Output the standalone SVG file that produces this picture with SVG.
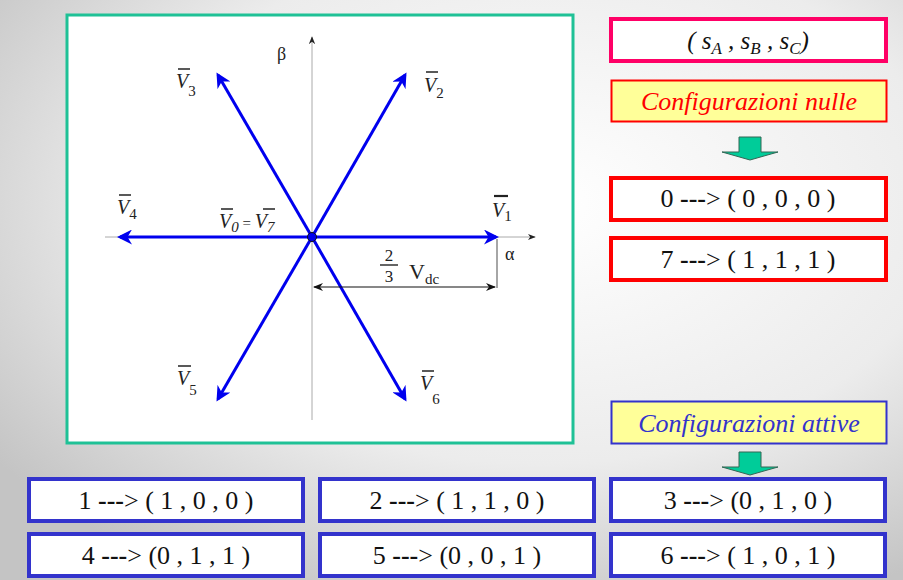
<svg xmlns="http://www.w3.org/2000/svg" width="903" height="580" viewBox="0 0 903 580">
<defs>
<radialGradient id="bg" cx="0.6" cy="0.35" r="0.75">
<stop offset="0" stop-color="#ffffff"/>
<stop offset="0.6" stop-color="#ececec"/>
<stop offset="1" stop-color="#c4c4c4"/>
</radialGradient>
<marker id="ah" viewBox="0 0 10 10" refX="8" refY="5" markerWidth="5" markerHeight="5" markerUnits="strokeWidth" orient="auto">
<path d="M0,0 L10,5 L0,10 L3,5 Z" fill="#0000ee"/>
</marker>
<marker id="ax" viewBox="0 0 10 10" refX="9" refY="5" markerWidth="8" markerHeight="8" markerUnits="userSpaceOnUse" orient="auto">
<path d="M0,1 L10,5 L0,9 L3,5 Z" fill="#222"/>
</marker>
<marker id="dm" viewBox="0 0 10 10" refX="9" refY="5" markerWidth="10" markerHeight="10" markerUnits="userSpaceOnUse" orient="auto-start-reverse">
<path d="M0,1 L10,5 L0,9 L3,5 Z" fill="#111"/>
</marker>
<path id="garrow" d="M-11,0 L11,0 L11,15 L28,15 L0,23 L-28,15 L-11,15 Z" fill="#00cc99" stroke="#336655" stroke-width="1"/>
<rect id="boxR" width="275" height="42" fill="#fff" stroke="#ff0000" stroke-width="4"/>
<rect id="boxB" width="274" height="42" fill="#fff" stroke="#3333cc" stroke-width="4"/>
</defs>
<rect width="903" height="580" fill="url(#bg)"/>

<g id="diagram">
<rect x="67" y="15" width="506" height="428" fill="#fff" stroke="#1fc196" stroke-width="3"/>
<line x1="312" y1="420" x2="312" y2="37" stroke="#aaa" stroke-width="1" marker-end="url(#ax)"/>
<line x1="105" y1="237" x2="535" y2="237" stroke="#aaa" stroke-width="1" marker-end="url(#ax)"/>
<text x="277" y="60" font-family="'Liberation Serif', 'Times New Roman', Tinos, 'DejaVu Serif', 'Noto Serif', serif" font-size="18" fill="#222">β</text>
<text x="505" y="260" font-family="'Liberation Serif', 'Times New Roman', Tinos, 'DejaVu Serif', 'Noto Serif', serif" font-size="18" fill="#222">α</text>
</g>

<g id="connectors" stroke="#0000ee" stroke-width="3" fill="none" marker-end="url(#ah)">
<line x1="312" y1="237" x2="496" y2="237"/>
<line x1="312" y1="237" x2="120" y2="237"/>
<line x1="312" y1="237" x2="405" y2="75"/>
<line x1="312" y1="237" x2="218" y2="75"/>
<line x1="312" y1="237" x2="218" y2="399"/>
<line x1="312" y1="237" x2="405" y2="399"/>
</g>
<g id="origin">
<circle cx="312" cy="237" r="4.5" fill="#0000ee" stroke="#111" stroke-width="1"/>
</g>
<g id="dimension">
<line x1="497" y1="239" x2="497" y2="288" stroke="#888" stroke-width="1.5"/>
<line x1="314" y1="287" x2="495" y2="287" stroke="#111" stroke-width="1.2" marker-start="url(#dm)" marker-end="url(#dm)"/>
<text x="389" y="261" font-family="'Liberation Serif', 'Times New Roman', Tinos, 'DejaVu Serif', 'Noto Serif', serif" font-size="17" fill="#222" text-anchor="middle">2</text>
<line x1="380" y1="265" x2="398" y2="265" stroke="#111" stroke-width="1.3"/>
<text x="389" y="282" font-family="'Liberation Serif', 'Times New Roman', Tinos, 'DejaVu Serif', 'Noto Serif', serif" font-size="17" fill="#222" text-anchor="middle">3</text>
<text x="409" y="279" font-family="'Liberation Serif', 'Times New Roman', Tinos, 'DejaVu Serif', 'Noto Serif', serif" font-size="22" fill="#222">V<tspan dy="5" font-size="15">dc</tspan></text>
</g>

<g id="labels" stroke="#222" stroke-width="1.5">
<text x="492" y="217" font-family="'Liberation Serif', 'Times New Roman', Tinos, 'DejaVu Serif', 'Noto Serif', serif" font-size="20" font-style="italic" fill="#222" stroke="none">V<tspan font-size="15" font-style="normal" dy="4">1</tspan></text><line x1="494" y1="196" x2="508" y2="196" stroke-width="2.2"/>
<text x="424" y="92" font-family="'Liberation Serif', 'Times New Roman', Tinos, 'DejaVu Serif', 'Noto Serif', serif" font-size="20" font-style="italic" fill="#222" stroke="none">V<tspan font-size="15" font-style="normal" dy="6">2</tspan></text><line x1="426" y1="72" x2="438" y2="72"/>
<text x="176" y="88" font-family="'Liberation Serif', 'Times New Roman', Tinos, 'DejaVu Serif', 'Noto Serif', serif" font-size="20" font-style="italic" fill="#222" stroke="none">V<tspan font-size="15" font-style="normal" dy="8">3</tspan></text><line x1="178" y1="69" x2="190" y2="69"/>
<text x="117" y="214" font-family="'Liberation Serif', 'Times New Roman', Tinos, 'DejaVu Serif', 'Noto Serif', serif" font-size="20" font-style="italic" fill="#222" stroke="none">V<tspan font-size="15" font-style="normal" dy="5">4</tspan></text><line x1="119" y1="195" x2="131" y2="195"/>
<text x="177" y="385" font-family="'Liberation Serif', 'Times New Roman', Tinos, 'DejaVu Serif', 'Noto Serif', serif" font-size="20" font-style="italic" fill="#222" stroke="none">V<tspan font-size="15" font-style="normal" dy="10">5</tspan></text><line x1="178" y1="366" x2="191" y2="366"/>
<text x="420" y="390" font-family="'Liberation Serif', 'Times New Roman', Tinos, 'DejaVu Serif', 'Noto Serif', serif" font-size="20" font-style="italic" fill="#222" stroke="none">V<tspan font-size="15" font-style="normal" dy="14">6</tspan></text><line x1="422" y1="371" x2="434" y2="371"/>
<text x="219" y="228" font-family="'Liberation Serif', 'Times New Roman', Tinos, 'DejaVu Serif', 'Noto Serif', serif" font-size="20" font-style="italic" fill="#222" stroke="none">V<tspan font-size="15" dy="4">0</tspan><tspan dy="-4" font-style="normal" font-size="15"> = </tspan>V<tspan font-size="15" dy="4">7</tspan></text>
<line x1="221" y1="209" x2="233" y2="209"/>
<line x1="263" y1="209" x2="275" y2="209"/>
</g>

<g id="sabc">
<rect x="611" y="19" width="275" height="42" fill="#fff" stroke="#ff0066" stroke-width="4"/>
<text x="748" y="49" font-family="'Liberation Serif', 'Times New Roman', Tinos, 'DejaVu Serif', 'Noto Serif', serif" font-size="25" font-style="italic" fill="#111" text-anchor="middle">( s<tspan font-size="17" dy="5">A</tspan><tspan dy="-5"> , s</tspan><tspan font-size="17" dy="5">B</tspan><tspan dy="-5"> , s</tspan><tspan font-size="17" dy="5">C</tspan><tspan dy="-5">)</tspan></text>
</g>

<g id="nulle">
<rect x="611.5" y="80.5" width="275" height="41" fill="#ffff99" stroke="#ff0000" stroke-width="2"/>
<text x="749" y="110" font-family="'Liberation Serif', 'Times New Roman', Tinos, 'DejaVu Serif', 'Noto Serif', serif" font-size="26" font-style="italic" fill="#ff0000" text-anchor="middle">Configurazioni nulle</text>
</g>
<g id="arrow1"><use href="#garrow" x="750" y="137"/></g>

<g id="c0">
<use href="#boxR" x="611" y="178"/>
<text x="748" y="207" font-family="'Liberation Serif', 'Times New Roman', Tinos, 'DejaVu Serif', 'Noto Serif', serif" font-size="26" fill="#111" text-anchor="middle">0 <tspan font-weight="bold">---</tspan>&gt; ( 0 , 0 , 0 )</text>
</g>
<g id="c7">
<use href="#boxR" x="611" y="238"/>
<text x="748" y="268" font-family="'Liberation Serif', 'Times New Roman', Tinos, 'DejaVu Serif', 'Noto Serif', serif" font-size="26" fill="#111" text-anchor="middle">7 <tspan font-weight="bold">---</tspan>&gt; ( 1 , 1 , 1 )</text>
</g>

<g id="attive">
<rect x="611.5" y="401.5" width="275" height="42" fill="#ffff99" stroke="#3333cc" stroke-width="2"/>
<text x="749" y="432" font-family="'Liberation Serif', 'Times New Roman', Tinos, 'DejaVu Serif', 'Noto Serif', serif" font-size="26" font-style="italic" fill="#3333cc" text-anchor="middle">Configurazioni attive</text>
</g>
<g id="arrow2"><use href="#garrow" x="750" y="452"/></g>

<g id="c1">
<use href="#boxB" x="29" y="479"/>
<text x="166" y="509" font-family="'Liberation Serif', 'Times New Roman', Tinos, 'DejaVu Serif', 'Noto Serif', serif" font-size="26" fill="#111" text-anchor="middle">1 <tspan font-weight="bold">---</tspan>&gt; ( 1 , 0 , 0 )</text>
</g>
<g id="c2">
<use href="#boxB" x="320" y="479"/>
<text x="457" y="509" font-family="'Liberation Serif', 'Times New Roman', Tinos, 'DejaVu Serif', 'Noto Serif', serif" font-size="26" fill="#111" text-anchor="middle">2 <tspan font-weight="bold">---</tspan>&gt; ( 1 , 1 , 0 )</text>
</g>
<g id="c3">
<use href="#boxB" x="611" y="479"/>
<text x="748" y="509" font-family="'Liberation Serif', 'Times New Roman', Tinos, 'DejaVu Serif', 'Noto Serif', serif" font-size="26" fill="#111" text-anchor="middle">3 <tspan font-weight="bold">---</tspan>&gt; (0 , 1 , 0 )</text>
</g>
<g id="c4">
<use href="#boxB" x="29" y="534"/>
<text x="166" y="564" font-family="'Liberation Serif', 'Times New Roman', Tinos, 'DejaVu Serif', 'Noto Serif', serif" font-size="26" fill="#111" text-anchor="middle">4 <tspan font-weight="bold">---</tspan>&gt; (0 , 1 , 1 )</text>
</g>
<g id="c5">
<use href="#boxB" x="320" y="534"/>
<text x="457" y="564" font-family="'Liberation Serif', 'Times New Roman', Tinos, 'DejaVu Serif', 'Noto Serif', serif" font-size="26" fill="#111" text-anchor="middle">5 <tspan font-weight="bold">---</tspan>&gt; (0 , 0 , 1 )</text>
</g>
<g id="c6">
<use href="#boxB" x="611" y="534"/>
<text x="748" y="564" font-family="'Liberation Serif', 'Times New Roman', Tinos, 'DejaVu Serif', 'Noto Serif', serif" font-size="26" fill="#111" text-anchor="middle">6 <tspan font-weight="bold">---</tspan>&gt; ( 1 , 0 , 1 )</text>
</g>
</svg>
